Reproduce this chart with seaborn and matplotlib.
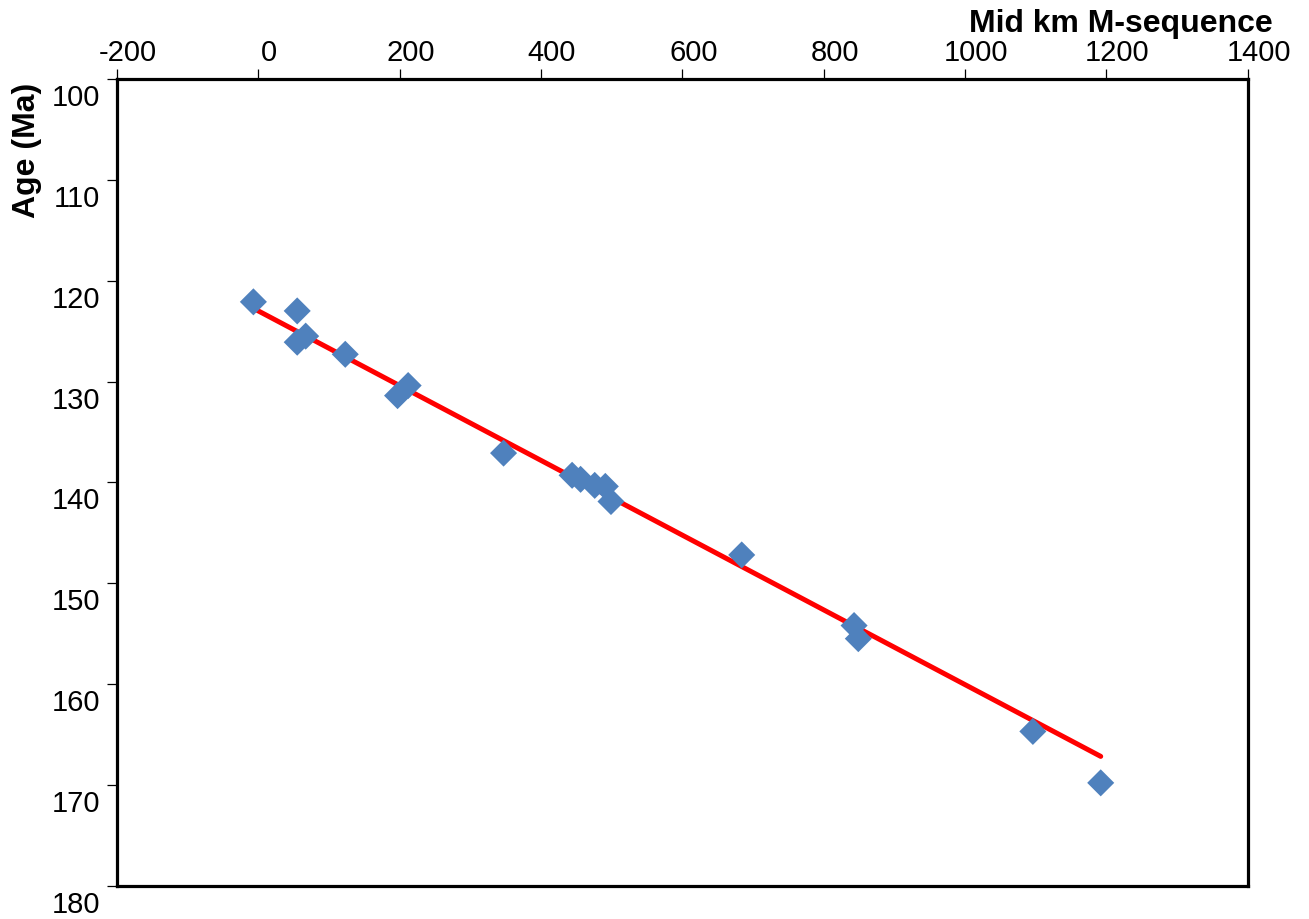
import numpy as np
import pandas as pd
import seaborn as sns
import matplotlib
matplotlib.use("Agg")
import matplotlib.pyplot as plt
from matplotlib.transforms import ScaledTranslation

# Magnetic anomaly positions (mid km along the M-sequence) and their ages
mid_km = [-7, 55, 55, 67, 123, 197, 212, 347, 444, 456, 476, 491, 499,
          684, 843, 849, 1096, 1192]
age_ma = [122.1, 123.0, 126.1, 125.5, 127.3, 131.4, 130.4, 137.1, 139.3,
          139.7, 140.3, 140.4, 141.9, 147.2, 154.2, 155.5, 164.7, 169.8]

# Linear age model: age = intercept + slope * km
fit_slope = 0.03706
fit_intercept = 123.0

x_ticks = [-200, 0, 200, 400, 600, 800, 1000, 1200, 1400]
y_ticks = [100, 110, 120, 130, 140, 150, 160, 170, 180]

df = pd.DataFrame({"km": mid_km, "age": age_ma})
fit_km = np.array([min(mid_km), max(mid_km)])
fit_df = pd.DataFrame({"km": fit_km, "age": fit_intercept + fit_slope * fit_km})

sns.set_style("ticks")
plt.rcParams["font.family"] = ["Liberation Sans", "DejaVu Sans"]
plt.rcParams["axes.unicode_minus"] = False

fig = plt.figure(figsize=(13.09, 9.2), dpi=100)
ax = fig.add_axes([117 / 1309, 1 - 886.7 / 920, 1130.7 / 1309, 806.7 / 920])

sns.lineplot(data=fit_df, x="km", y="age", ax=ax, color="#FF0000",
             linewidth=3.6, zorder=2, solid_capstyle="round")
sns.scatterplot(data=df, x="km", y="age", ax=ax, marker="D", s=190,
                color="#4F81BD", edgecolor="none", linewidth=0, zorder=3)

ax.set_xlim(-200, 1400)
ax.set_ylim(180, 100)
ax.set_xticks(x_ticks)
ax.set_yticks(y_ticks)
ax.xaxis.tick_top()
ax.xaxis.set_label_position("top")

for side in ["left", "right", "top", "bottom"]:
    ax.spines[side].set_visible(True)
    ax.spines[side].set_linewidth(2.3)
    ax.spines[side].set_color("black")

ax.tick_params(axis="both", which="major", direction="out", length=7.2,
               width=0.9, color="black", labelsize=21, labelcolor="black")
ax.tick_params(axis="x", pad=2.5)
ax.tick_params(axis="y", pad=5)

# Tick labels sit slightly offset from their ticks
for lab in ax.get_yticklabels():
    lab.set_transform(lab.get_transform() +
                      ScaledTranslation(0, -0.15, fig.dpi_scale_trans))
for lab in ax.get_xticklabels():
    lab.set_transform(lab.get_transform() +
                      ScaledTranslation(0.11, 0, fig.dpi_scale_trans))

ax.set_xlabel("Mid km M-sequence", fontsize=23, fontweight="bold",
              color="black", ha="right", va="baseline")
ax.xaxis.set_label_coords(1.0224, 1.0595)
ax.set_ylabel("Age (Ma)", fontsize=23, fontweight="bold", color="black",
              ha="center", va="center")
ax.yaxis.set_label_coords(-0.0796, 0.913)

fig.savefig("out.png", dpi=100, facecolor="white")
